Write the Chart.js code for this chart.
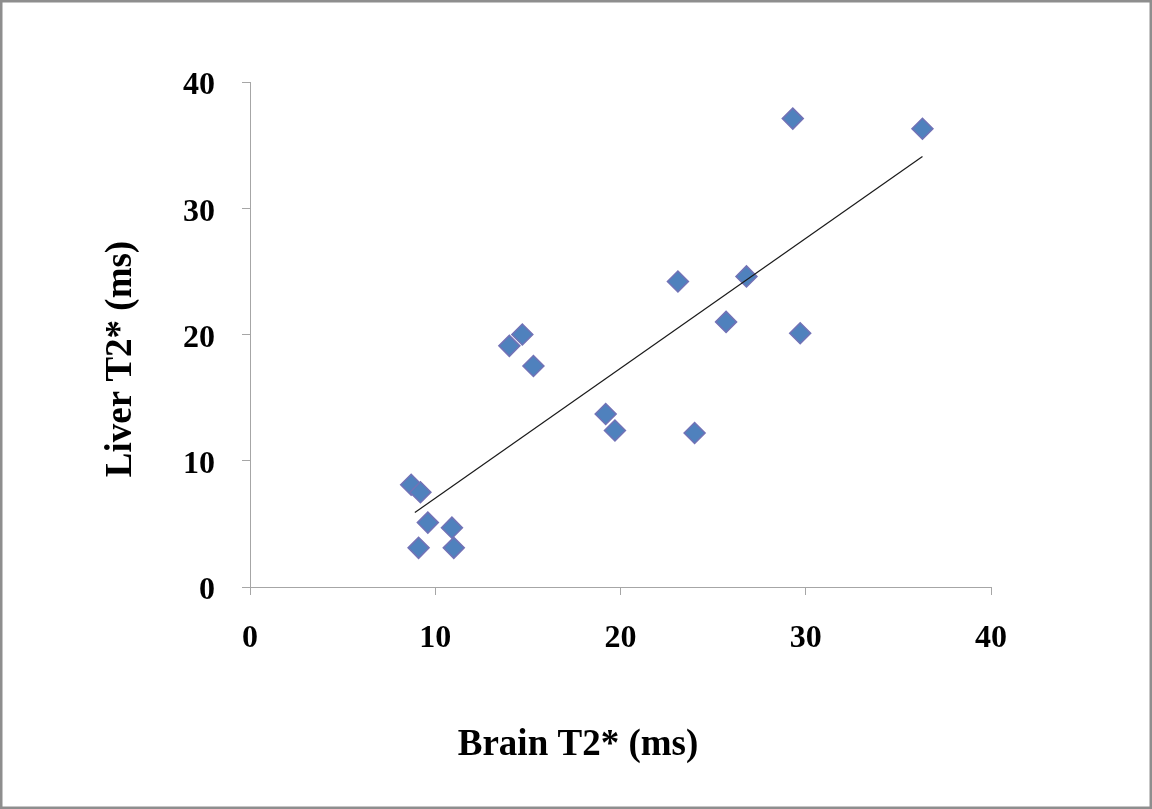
<!DOCTYPE html>
<html>
<head>
<meta charset="utf-8">
<script src="https://cdn.jsdelivr.net/npm/chart.js@4"></script>
<style>
html,body{margin:0;padding:0;background:#fff;}
#wrap{width:1152px;height:809px;position:relative;}
</style>
</head>
<body>
<div id="wrap"><canvas id="c" width="1152" height="809"></canvas></div>
<script>
const brainT2 = [8.7, 9.2, 9.6, 9.1, 10.9, 11.0, 14.0, 14.7, 15.3, 19.2, 19.7, 23.1, 24.0, 25.7, 26.8, 29.3, 29.7, 36.3];
const liverT2 = [8.1, 7.5, 5.1, 3.1, 4.7, 3.1, 19.1, 20.0, 17.5, 13.7, 12.4, 24.2, 12.2, 21.0, 24.6, 37.1, 20.1, 36.3];
const trendX = [8.9, 36.3];
const trendY = [5.9, 34.1];
const xTicks = [0, 10, 20, 30, 40];
const yTicks = [0, 10, 20, 30, 40];
const xTitle = 'Brain T2* (ms)';
const yTitle = 'Liver T2* (ms)';

const pts = brainT2.map((x, i) => ({x: x, y: liverT2[i]}));
const trend = trendX.map((x, i) => ({x: x, y: trendY[i]}));

const serif = '"Liberation Serif", "Times New Roman", serif';
const axisColor = '#a6a6a6';

const frame = {
  id: 'frame',
  afterDraw(chart) {
    const ctx = chart.ctx;
    ctx.save();
    ctx.strokeStyle = '#8e8e8e';
    ctx.lineWidth = 2.5;
    ctx.strokeRect(1.25, 1.25, chart.width - 2.5, chart.height - 2.5);
    // axis titles
    ctx.fillStyle = '#000';
    ctx.font = 'bold 37px ' + serif;
    ctx.textAlign = 'center';
    ctx.textBaseline = 'middle';
    ctx.fillText(xTitle, 578, 745);
    ctx.translate(121, 359);
    ctx.rotate(-Math.PI / 2);
    ctx.fillText(yTitle, 0, 0);
    ctx.restore();
  }
};

new Chart(document.getElementById('c'), {
  type: 'scatter',
  data: {
    datasets: [
      {
        type: 'line',
        data: trend,
        borderColor: '#1a1a1a',
        borderWidth: 1.2,
        pointRadius: 0,
        fill: false,
        order: 0
      },
      {
        data: pts,
        pointStyle: 'rectRot',
        pointRadius: 10.5,
        pointHoverRadius: 10.5,
        backgroundColor: '#4f81bd',
        borderColor: '#7272b6',
        borderWidth: 1.5,
        order: 1
      }
    ]
  },
  plugins: [frame],
  options: {
    responsive: false,
    animation: false,
    events: [],
    layout: {padding: {left: 0, top: 82, right: 161, bottom: 0}},
    plugins: {legend: {display: false}, tooltip: {enabled: false}},
    scales: {
      x: {
        type: 'linear',
        min: 0, max: 40,
        afterFit(s) { s.height = 222; },
        afterBuildTicks(s) { s.ticks = xTicks.map(v => ({value: v})); },
        border: {color: axisColor, width: 1},
        grid: {drawOnChartArea: false, color: axisColor, tickLength: 8, tickWidth: 1},
        ticks: {color: '#000', padding: 25, font: {family: serif, size: 32, weight: 'bold'}},
        title: {display: false}
      },
      y: {
        type: 'linear',
        min: 0, max: 40,
        afterFit(s) { s.width = 250; },
        afterBuildTicks(s) { s.ticks = yTicks.map(v => ({value: v})); },
        border: {color: axisColor, width: 1},
        grid: {drawOnChartArea: false, color: axisColor, tickLength: 8, tickWidth: 1},
        ticks: {color: '#000', padding: 27, labelOffset: 4, font: {family: serif, size: 32, weight: 'bold'}},
        title: {display: false}
      }
    }
  }
});
</script>
</body>
</html>
